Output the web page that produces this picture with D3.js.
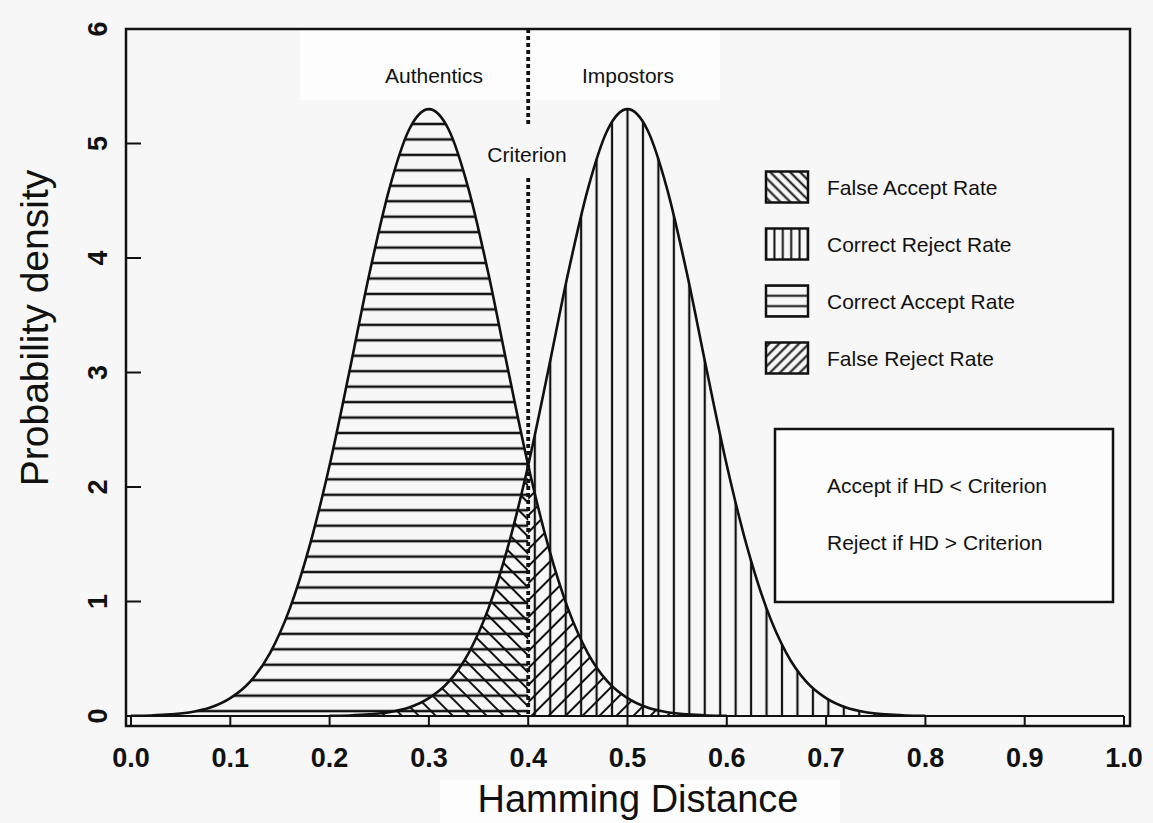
<!DOCTYPE html>
<html>
<head>
<meta charset="utf-8">
<script src="https://cdn.jsdelivr.net/npm/d3@7"></script>
<style>
  body { margin: 0; background: #f7f7f7; }
  svg { display: block; font-family: "Liberation Sans", Arial, sans-serif; }
</style>
</head>
<body>
<svg id="chart" width="1153" height="823"></svg>
<script>
// Hamming distance grid and densities
var authHD = [0.00, 0.02, 0.04, 0.06, 0.08, 0.10, 0.12, 0.14, 0.16, 0.18, 0.20,
              0.22, 0.24, 0.26, 0.28, 0.30, 0.32, 0.34, 0.36, 0.38, 0.40,
              0.42, 0.44, 0.46, 0.48, 0.50, 0.52, 0.54, 0.56, 0.58, 0.60];
var authDensity = [0.002, 0.005, 0.014, 0.033, 0.074, 0.156, 0.30, 0.55, 0.94, 1.49, 2.19,
                   3.01, 3.86, 4.60, 5.12, 5.30, 5.12, 4.60, 3.86, 3.01, 2.19,
                   1.49, 0.94, 0.55, 0.30, 0.156, 0.074, 0.033, 0.014, 0.005, 0.002];

var impHD = [0.20, 0.22, 0.24, 0.26, 0.28, 0.30, 0.32, 0.34, 0.36, 0.38, 0.40,
             0.42, 0.44, 0.46, 0.48, 0.50, 0.52, 0.54, 0.56, 0.58, 0.60,
             0.62, 0.64, 0.66, 0.68, 0.70, 0.72, 0.74, 0.76, 0.78, 0.80];
var impDensity = [0.002, 0.005, 0.014, 0.033, 0.074, 0.156, 0.30, 0.55, 0.94, 1.49, 2.19,
                  3.01, 3.86, 4.60, 5.12, 5.30, 5.12, 4.60, 3.86, 3.01, 2.19,
                  1.49, 0.94, 0.55, 0.30, 0.156, 0.074, 0.033, 0.014, 0.005, 0.002];

var criterion = 0.4;
var xTicks = [0.0, 0.1, 0.2, 0.3, 0.4, 0.5, 0.6, 0.7, 0.8, 0.9, 1.0];
var yTicks = [0, 1, 2, 3, 4, 5, 6];

var legendLabels = ["False Accept Rate", "Correct Reject Rate", "Correct Accept Rate", "False Reject Rate"];
var legendHatch = ["back", "vert", "horiz", "fwd"];
var ruleLines = ["Accept if HD < Criterion", "Reject if HD > Criterion"];

var svg = d3.select("#chart");
var ink = "#111";

var x = d3.scaleLinear().domain([0, 1]).range([131, 1124]);
var y = d3.scaleLinear().domain([0, 6]).range([716, 29]);

// soft light patches, like the scanned original
svg.append("rect").attr("x", 0).attr("y", 0).attr("width", 1153).attr("height", 823).attr("fill", "#f7f7f7");
svg.append("rect").attr("x", 300).attr("y", 30).attr("width", 420).attr("height", 70).attr("fill", "#fdfdfd");
svg.append("rect").attr("x", 440).attr("y", 780).attr("width", 400).attr("height", 43).attr("fill", "#fdfdfd");

// hatch patterns
var defs = svg.append("defs");

function linePattern(id, w, h, ox, oy, angle, horizontal, sw) {
  var p = defs.append("pattern")
    .attr("id", id)
    .attr("patternUnits", "userSpaceOnUse")
    .attr("x", ox).attr("y", oy)
    .attr("width", w).attr("height", h);
  if (angle) p.attr("patternTransform", "rotate(" + angle + ")");
  if (horizontal) {
    p.append("line").attr("x1", -1).attr("x2", w + 1).attr("y1", h / 2).attr("y2", h / 2)
      .attr("stroke", ink).attr("stroke-width", sw);
  } else {
    p.append("line").attr("y1", -1).attr("y2", h + 1).attr("x1", w / 2).attr("x2", w / 2)
      .attr("stroke", ink).attr("stroke-width", sw);
  }
}

var hs = 15.45;
linePattern("horiz", 20, hs, 0, 124 - hs / 2, 0, true, 2.5);
linePattern("vert", hs, 20, x(0.5) - hs / 2, 0, 0, false, 2.2);
linePattern("back", 12, 12, 0, 0, -45, false, 2);
linePattern("fwd", 12, 12, 0, 0, 45, false, 2);

// the four shaded regions
var area = d3.area()
  .x(function(d) { return x(d[0]); })
  .y0(y(0))
  .y1(function(d) { return y(d[1]); })
  .curve(d3.curveMonotoneX);

var authPts = authHD.map(function(h, i) { return [h, authDensity[i]]; });
var impPts = impHD.map(function(h, i) { return [h, impDensity[i]]; });

var regions = [
  { pts: authPts.filter(function(d) { return d[0] <= criterion; }), fill: "horiz" },
  { pts: impPts.filter(function(d) { return d[0] <= criterion; }), fill: "back" },
  { pts: impPts.filter(function(d) { return d[0] >= criterion; }), fill: "vert" },
  { pts: authPts.filter(function(d) { return d[0] >= criterion; }), fill: "fwd" }
];

svg.selectAll("path.region")
  .data(regions)
  .enter()
  .append("path")
    .attr("class", "region")
    .attr("d", function(d) { return area(d.pts); })
    .attr("fill", function(d) { return "url(#" + d.fill + ")"; });

// density curves
var line = d3.line()
  .x(function(d) { return x(d[0]); })
  .y(function(d) { return y(d[1]); })
  .curve(d3.curveMonotoneX);

svg.selectAll("path.curve")
  .data([authPts, impPts])
  .enter()
  .append("path")
    .attr("class", "curve")
    .attr("d", line)
    .attr("fill", "none")
    .attr("stroke", ink)
    .attr("stroke-width", 2.6);

// criterion dotted line, broken where its label sits
svg.append("line")
  .attr("x1", x(criterion)).attr("x2", x(criterion))
  .attr("y1", y(6)).attr("y2", 127)
  .attr("stroke", ink).attr("stroke-width", 3.8).attr("stroke-dasharray", "4,3");
svg.append("line")
  .attr("x1", x(criterion)).attr("x2", x(criterion))
  .attr("y1", 178).attr("y2", y(0))
  .attr("stroke", ink).attr("stroke-width", 3.8).attr("stroke-dasharray", "4,3");

// plot frame
svg.append("rect")
  .attr("x", 126).attr("y", 29)
  .attr("width", 1130 - 126).attr("height", 726 - 29)
  .attr("fill", "none").attr("stroke", ink).attr("stroke-width", 2.5);

// x axis: baseline at density 0 with ticks down to the frame
svg.append("line")
  .attr("x1", x(0)).attr("x2", x(1))
  .attr("y1", y(0)).attr("y2", y(0))
  .attr("stroke", ink).attr("stroke-width", 2.2);

svg.selectAll("line.xtick")
  .data(xTicks)
  .enter()
  .append("line")
    .attr("class", "xtick")
    .attr("x1", function(d) { return x(d); })
    .attr("x2", function(d) { return x(d); })
    .attr("y1", y(0)).attr("y2", 726)
    .attr("stroke", ink).attr("stroke-width", 2);

svg.selectAll("text.xlab")
  .data(xTicks)
  .enter()
  .append("text")
    .attr("class", "xlab")
    .attr("x", function(d) { return x(d); })
    .attr("y", 767)
    .attr("text-anchor", "middle")
    .style("font-size", "27px")
    .style("font-weight", "bold")
    .attr("fill", ink)
    .text(function(d) { return d3.format(".1f")(d); });

// y axis: inward ticks and rotated labels
svg.selectAll("line.ytick")
  .data(yTicks)
  .enter()
  .append("line")
    .attr("class", "ytick")
    .attr("x1", 126).attr("x2", 141)
    .attr("y1", function(d) { return y(d); })
    .attr("y2", function(d) { return y(d); })
    .attr("stroke", ink).attr("stroke-width", 2);

svg.selectAll("text.ylab")
  .data(yTicks)
  .enter()
  .append("text")
    .attr("class", "ylab")
    .attr("transform", function(d) { return "translate(107," + y(d) + ") rotate(-90)"; })
    .attr("text-anchor", "middle")
    .style("font-size", "27px")
    .style("font-weight", "bold")
    .attr("fill", ink)
    .text(function(d) { return d; });

// axis titles
svg.append("text")
  .attr("x", 638).attr("y", 812)
  .attr("text-anchor", "middle")
  .style("font-size", "38px")
  .attr("fill", ink)
  .text("Hamming Distance");

svg.append("text")
  .attr("transform", "translate(48,328) rotate(-90)")
  .attr("text-anchor", "middle")
  .style("font-size", "39px")
  .attr("fill", ink)
  .text("Probability density");

// in-plot labels
svg.append("text").attr("x", 434).attr("y", 83).attr("text-anchor", "middle")
  .style("font-size", "21px").attr("fill", ink).text("Authentics");
svg.append("text").attr("x", 628).attr("y", 83).attr("text-anchor", "middle")
  .style("font-size", "21px").attr("fill", ink).text("Impostors");
svg.append("text").attr("x", 527).attr("y", 162).attr("text-anchor", "middle")
  .style("font-size", "21px").attr("fill", ink).text("Criterion");

// legend
var legendRows = [187, 244, 301, 358];
var lg = svg.selectAll("g.legend")
  .data(legendLabels)
  .enter()
  .append("g")
    .attr("class", "legend");

legendHatch.forEach(function(h, i) {
  var bx = 766, by = legendRows[i] - 15.5;
  var sp = (h === "vert") ? 8.4 : (h === "horiz" ? 10.3 : 7);
  var ang = h === "back" ? -45 : (h === "fwd" ? 45 : 0);
  linePattern("lg" + i, sp, sp, bx - sp / 2 + (h === "vert" ? sp : 0), by - sp / 2 + (h === "horiz" ? sp : 0), ang, h === "horiz", 2);
});

lg.append("rect")
  .attr("x", 766)
  .attr("y", function(d, i) { return legendRows[i] - 15.5; })
  .attr("width", 42).attr("height", 31)
  .attr("fill", function(d, i) { return "url(#lg" + i + ")"; })
  .attr("stroke", ink).attr("stroke-width", 2.5);

lg.append("text")
  .attr("x", 827)
  .attr("y", function(d, i) { return legendRows[i] + 7.5; })
  .style("font-size", "21px")
  .attr("fill", ink)
  .text(function(d) { return d; });

// decision rule box
svg.append("rect")
  .attr("x", 775).attr("y", 429)
  .attr("width", 1113 - 775).attr("height", 602 - 429)
  .attr("fill", "#fcfcfc").attr("stroke", ink).attr("stroke-width", 2.5);

svg.selectAll("text.rule")
  .data(ruleLines)
  .enter()
  .append("text")
    .attr("class", "rule")
    .attr("x", 827)
    .attr("y", function(d, i) { return 493 + i * 57; })
    .style("font-size", "21px")
    .attr("fill", ink)
    .text(function(d) { return d; });
</script>
</body>
</html>
